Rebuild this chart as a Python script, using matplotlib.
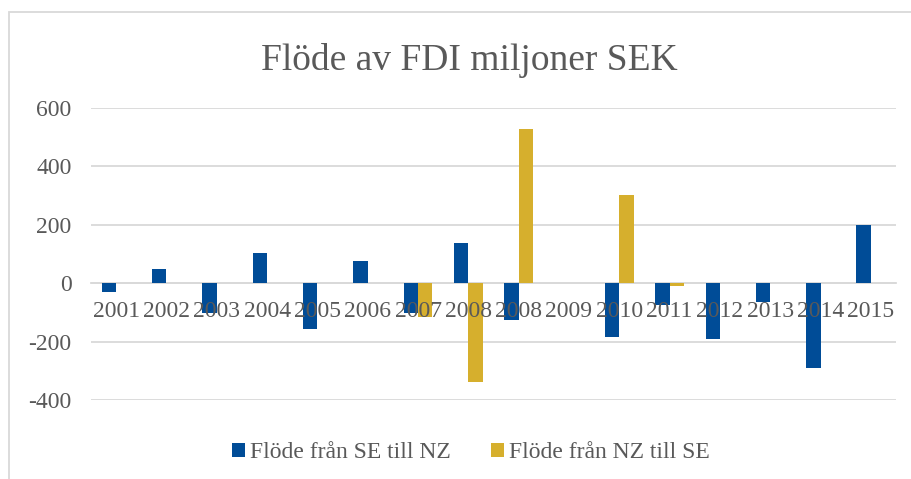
import numpy as np
import matplotlib
matplotlib.use("Agg")
import matplotlib.pyplot as plt
from matplotlib.patches import Rectangle

# data
years = ["2001", "2002", "2003", "2004", "2005", "2006", "2007", "2008",
         "2008", "2009", "2010", "2011", "2012", "2013", "2014", "2015"]
se_to_nz = [-30, 48, -100, 103, -158, 76, -100, 137, -124, 0, -182, -74, -190, -63, -291, 200]
nz_to_se = [0, 0, 0, 0, 0, 0, -115, -336, 528, 0, 301, -8, 0, 0, 0, 0]
yticks = [-400, -200, 0, 200, 400, 600]

blue = "#004C97"
gold = "#D6AF2D"
grey_text = "#595959"
grid_col = "#D9D9D9"

plt.rcParams["font.family"] = ["Liberation Serif", "DejaVu Serif"]

W, H = 911, 479
fig = plt.figure(figsize=(W / 100, H / 100), dpi=100)
ax = fig.add_axes([91 / W, 1 - 400.3 / H, (896 - 91) / W, (400.3 - 107.7) / H])

x = np.arange(len(years))
bw = 0.286
ax.bar(x - bw / 2, se_to_nz, bw, color=blue, label="Flöde från SE till NZ", zorder=2)
ax.bar(x + bw / 2, nz_to_se, bw, color=gold, label="Flöde från NZ till SE", zorder=2)

ax.set_xlim(-0.5, len(years) - 0.5)
ax.set_ylim(-400, 600)
ax.set_yticks(yticks)
ax.set_yticklabels([str(v) for v in yticks])
ax.set_xticks(x)
ax.set_xticklabels(years)

ax.grid(axis="y", color=grid_col, linewidth=1.3)
ax.set_axisbelow(True)
ax.xaxis.set_zorder(3)

for s in ["top", "right", "left"]:
    ax.spines[s].set_visible(False)
ax.spines["bottom"].set_position(("data", 0))
ax.spines["bottom"].set_color(grid_col)
ax.spines["bottom"].set_linewidth(1.3)
ax.spines["bottom"].set_zorder(0.5)

ax.tick_params(axis="both", length=0, labelsize=17, colors=grey_text)
ax.tick_params(axis="x", pad=13)
ax.tick_params(axis="y", pad=14)

fig.text(469 / W, 1 - 70 / H, "Flöde av FDI miljoner SEK", ha="center", va="baseline",
         fontsize=27, color=grey_text)

leg = fig.legend(loc="center", bbox_to_anchor=(471 / W, 1 - 453 / H), ncol=2, frameon=False,
                 fontsize=17, handlelength=0.55, handleheight=0.55, handletextpad=0.2,
                 columnspacing=1.7)
for t in leg.get_texts():
    t.set_color(grey_text)

fig.patches.append(Rectangle((9 / W, -0.1), 1.2, 1.1 - 12 / H, transform=fig.transFigure,
                             fill=False, edgecolor=grid_col, linewidth=1.3))

fig.savefig("out.png", dpi=100)
